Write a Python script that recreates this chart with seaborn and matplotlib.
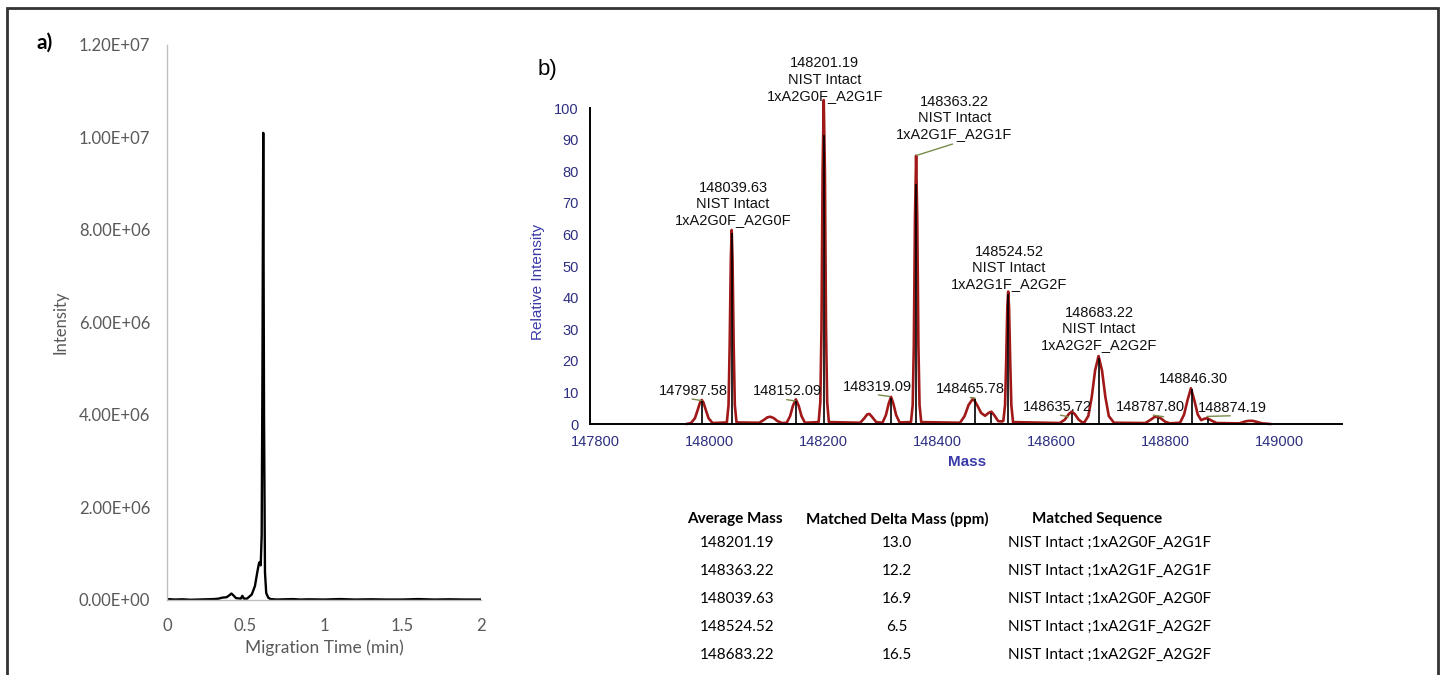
"""
Figure: a) CE migration trace, b) deconvoluted intact mass spectrum with glycoform table.
"""
import matplotlib
matplotlib.use('Agg')
import matplotlib.pyplot as plt
import seaborn as sns
from matplotlib.patches import Rectangle
from matplotlib.ticker import MultipleLocator, FuncFormatter

# ---- panel a: electropherogram (min, counts) ----
mig_time = [0.0, 0.05, 0.1, 0.15, 0.2, 0.25, 0.3, 0.33, 0.35, 0.38, 0.40, 0.41,
            0.42, 0.44, 0.47, 0.48, 0.49, 0.51, 0.54, 0.56, 0.575, 0.585, 0.59,
            0.597, 0.603, 0.608, 0.613, 0.618, 0.624, 0.632, 0.645, 0.66, 0.7,
            0.75, 0.8, 0.85, 0.9, 1.0, 1.1, 1.2, 1.3, 1.4, 1.5, 1.6, 1.7, 1.8,
            1.9, 2.0]
mig_intensity = [2e4, 1e4, 1.5e4, 0.5e4, 1e4, 1.5e4, 2e4, 3e4, 5e4, 6e4, 1.1e5, 1.4e5,
                 1.1e5, 4e4, 3e4, 9e4, 3e4, 3e4, 1.2e5, 3e5, 6e5, 7.8e5, 8.2e5,
                 7.5e5, 1.4e6, 5e6, 1.01e7, 4e6, 6e5, 1.5e5, 5e4, 2e4, 1e4,
                 1.5e4, 2e4, 1e4, 1.5e4, 1e4, 2e4, 1e4, 1.5e4, 1e4, 1e4, 2e4, 1e4, 1.5e4,
                 1e4, 1e4]

# ---- panel b: deconvoluted profile (Da, %) ----
profile_mass = [147960,
                147968, 147975, 147980, 147984, 147987, 147990, 147994, 147999, 148006,
                148031, 148034, 148036, 148038, 148039.5, 148041, 148043, 148045, 148048,
                148088, 148096, 148102, 148107, 148113, 148120, 148128,
                148136, 148142, 148147, 148152, 148157, 148162, 148168,
                148192, 148195, 148197, 148199, 148201, 148203, 148205, 148207, 148210,
                148265, 148272, 148277, 148281, 148286, 148293,
                148304, 148310, 148315, 148319, 148323, 148328, 148334,
                148354, 148357, 148359, 148361, 148363, 148365, 148367, 148369, 148372,
                148440, 148448, 148455, 148463, 148470, 148477, 148484, 148490, 148495,
                148500, 148507, 148514,
                148516, 148519, 148521, 148523, 148524.5, 148526, 148528, 148530, 148533,
                148615, 148624, 148631, 148636, 148641, 148648, 148656,
                148658, 148665, 148671, 148677, 148683, 148689, 148695, 148701, 148710,
                148765, 148774, 148781, 148786, 148792, 148800, 148808,
                148826, 148833, 148839, 148845, 148851, 148857, 148863, 148869, 148874,
                148880, 148890,
                148930, 148940, 148946, 148953, 148960, 148970, 148985]
profile_intensity = [0,
                     0.3, 1.8, 4.5, 6.8, 7.6, 6.8, 4.5, 1.8, 0.3,
                     0.5, 6, 25, 52, 61.4, 52, 25, 6, 0.5,
                     0.4, 1.3, 2.1, 2.3, 1.9, 0.9, 0.3,
                     0.4, 2.5, 5.8, 7.8, 5.8, 2.5, 0.4,
                     0.6, 7, 30, 80, 102.5, 80, 30, 7, 0.6,
                     0.4, 1.8, 3.0, 3.2, 2.2, 0.6,
                     0.4, 2.8, 6.5, 8.6, 6.5, 2.8, 0.5,
                     0.6, 6, 25, 65, 84.9, 65, 25, 6, 0.6,
                     0.4, 2.5, 6, 8.1, 6, 3.5, 2.6, 3.5, 3.9,
                     2.8, 0.9, 0.8,
                     1, 6, 20, 37, 41.9, 37, 20, 6, 0.6,
                     0.3, 1.4, 3.2, 3.9, 3.2, 1.4, 0.3,
                     0.5, 2.5, 8.5, 17, 21.5, 17, 8.5, 2.5, 0.4,
                     0.3, 1.3, 2.2, 2.3, 1.8, 0.7, 0.2,
                     0.4, 3, 7.5, 11.3, 7.5, 3, 1.2, 1.7, 1.8,
                     1.2, 0.3,
                     0.2, 0.8, 1.0, 1.0, 0.7, 0.2, 0]

# centroid sticks
stick_mass = [147987.58, 148039.63, 148152.09, 148201.19, 148319.09, 148363.22,
              148465.78, 148495.0, 148524.52, 148635.72, 148683.22, 148787.80,
              148846.30, 148874.19]
stick_height = [7.2, 60.5, 7.4, 91.5, 8.2, 76.0, 7.8, 3.5, 41.0, 3.5, 21.0, 2.0, 11.0, 1.6]

# peak annotations
label_text = ["147987.58",
              "148039.63\nNIST Intact\n1xA2G0F_A2G0F",
              "148152.09",
              "148201.19\nNIST Intact\n1xA2G0F_A2G1F",
              "148319.09",
              "148363.22\nNIST Intact\n1xA2G1F_A2G1F",
              "148465.78",
              "148524.52\nNIST Intact\n1xA2G1F_A2G2F",
              "148635.72",
              "148683.22\nNIST Intact\n1xA2G2F_A2G2F",
              "148787.80",
              "148846.30",
              "148874.19"]

# matched table
table_header = ["Average Mass", "Matched Delta Mass (ppm)", "Matched Sequence"]
avg_mass = ["148201.19", "148363.22", "148039.63", "148524.52", "148683.22"]
delta_ppm = [13.0, 12.2, 16.9, 6.5, 16.5]
matched_seq = ["NIST Intact ;1xA2G0F_A2G1F", "NIST Intact ;1xA2G1F_A2G1F",
               "NIST Intact ;1xA2G0F_A2G0F", "NIST Intact ;1xA2G1F_A2G2F",
               "NIST Intact ;1xA2G2F_A2G2F"]

sns.set_theme(style='white')
plt.rcParams['font.family'] = ['Lato', 'DejaVu Sans']

W, H = 1445, 675
fig = plt.figure(figsize=(W / 100, H / 100), dpi=100)


def fx(x):
    return x / W


def fy(y):
    return 1 - y / H


# outer frame
fig.patches.append(Rectangle((fx(7), fy(690)), fx(1438 - 7), (690 - 8) / H,
                             transform=fig.transFigure, fill=False,
                             edgecolor='#333333', lw=2, clip_on=False))

# ---------------- panel a ----------------
ax_a = fig.add_axes([fx(167), fy(600), fx(481 - 167), (600 - 45) / H])
sns.lineplot(x=mig_time, y=mig_intensity, ax=ax_a, color='black', lw=1.7,
             estimator=None, sort=False)
ax_a.set_xlim(0, 2)
ax_a.set_ylim(0, 1.2e7)
ax_a.set_xticks([0, 0.5, 1, 1.5, 2])
ax_a.set_xticklabels(['0', '0.5', '1', '1.5', '2'])
ax_a.set_yticks([0, 2e6, 4e6, 6e6, 8e6, 1e7, 1.2e7])
ax_a.yaxis.set_major_formatter(FuncFormatter(lambda v, p: f"{v:.2E}"))
for s in ['top', 'right']:
    ax_a.spines[s].set_visible(False)
for s in ['left', 'bottom']:
    ax_a.spines[s].set_color('#bfbfbf')
    ax_a.spines[s].set_linewidth(1.0)
ax_a.tick_params(axis='both', colors='#bfbfbf', labelcolor='#595959',
                 labelsize=12, length=4, width=1, direction='out')
ax_a.tick_params(axis='y', pad=8)
ax_a.tick_params(axis='x', pad=9)
ax_a.set_xlabel('')
ax_a.set_ylabel('')
fig.text(fx(60), fy(322), 'Intensity', rotation=90, ha='center', va='center',
         fontsize=12, color='#595959')
fig.text(fx(324), fy(648), 'Migration Time (min)', ha='center', va='center',
         fontsize=12.5, color='#595959')
fig.text(fx(45), fy(43), 'a)', ha='center', va='center', fontsize=15,
         fontweight='bold', color='black')

# ---------------- panel b ----------------
arial = ['Liberation Sans', 'DejaVu Sans']
navy = '#2e2f80'
ax_b = fig.add_axes([fx(590), fy(424), fx(1342 - 590), (424 - 108) / H])
sns.lineplot(x=profile_mass, y=profile_intensity, ax=ax_b, color='#a01818',
             lw=1.9, estimator=None, sort=False, clip_on=False)
ax_b.vlines(stick_mass, 0, stick_height, color='black', lw=1.2, zorder=3)
ax_b.set_xlim(147791, 149110)
ax_b.set_ylim(0, 100)
ax_b.xaxis.set_major_locator(MultipleLocator(100))
ax_b.xaxis.set_minor_locator(MultipleLocator(25))
ax_b.xaxis.set_major_formatter(
    FuncFormatter(lambda v, p: f"{v:.0f}" if round(v) % 200 == 0 else ''))
ax_b.yaxis.set_major_locator(MultipleLocator(10))
ax_b.yaxis.set_minor_locator(MultipleLocator(5))
for s in ['top', 'right']:
    ax_b.spines[s].set_visible(False)
for s in ['left', 'bottom']:
    ax_b.spines[s].set_color('black')
    ax_b.spines[s].set_linewidth(1.4)
ax_b.tick_params(axis='both', which='major', length=6, width=1.3,
                 color='black', labelcolor=navy, labelsize=10.5,
                 direction='out', pad=2)
ax_b.tick_params(axis='both', which='minor', length=3, width=1.0,
                 color='black', direction='out')
for lbl in ax_b.get_xticklabels() + ax_b.get_yticklabels():
    lbl.set_family(arial)
ax_b.set_xlabel('')
ax_b.set_ylabel('')
fig.text(fx(538), fy(282), 'Relative Intensity', rotation=90, ha='center',
         va='center', fontsize=11, color='#3a3aa8', family=arial)
fig.text(fx(967), fy(462), 'Mass', ha='center', va='center', fontsize=11,
         color='#3a3aa8', family=arial, fontweight='bold')
fig.text(fx(547), fy(70), 'b)', ha='center', va='center', fontsize=16,
         color='black', family=arial)

# label anchor positions (data coords) and leader segments
label_pos = [(147972, 10.5), (148042, 69.6), (148137, 10.5), (148203, 109),
             (148295, 11.7), (148430, 96.8), (148458, 11.0), (148526, 49.4),
             (148611, 5.3), (148684, 30.0), (148774, 5.5), (148849, 14.2),
             (148918, 5.1)]
for txt, (lx, ly) in zip(label_text, label_pos):
    ax_b.text(lx, ly, txt, ha='center', va='center', fontsize=10.5,
              family=arial, color='#111111', linespacing=1.2)

leaders = [((147970, 147987), (7.9, 7.4)), ((148136, 148151), (7.7, 7.3)),
           ((148297, 148317), (9.2, 8.7)), ((148427, 148364), (88.6, 85.0)),
           ((148458, 148467), (8.4, 8.1)), ((148616, 148630), (2.8, 2.3)),
           ((148779, 148797), (2.8, 2.3)), ((148873, 148914), (2.4, 2.6))]
for xs, ys in leaders:
    ax_b.plot(xs, ys, color='#7a8c4a', lw=1.0, clip_on=False)

# ---------------- table ----------------
col_x = [735, 897, 1097]
for cx, head in zip(col_x, table_header):
    fig.text(fx(cx), fy(519), head, ha='center', va='center', fontsize=11,
             fontweight='bold', color='black')
for i in range(len(avg_mass)):
    ry = 543 + 28 * i
    fig.text(fx(737), fy(ry), avg_mass[i], ha='center', va='center',
             fontsize=11, color='black')
    fig.text(fx(897), fy(ry), f"{delta_ppm[i]:.1f}", ha='center', va='center',
             fontsize=11, color='black')
    fig.text(fx(1008), fy(ry), matched_seq[i], ha='left', va='center',
             fontsize=11, color='black')

fig.savefig('out.png', dpi=100, facecolor='white')
